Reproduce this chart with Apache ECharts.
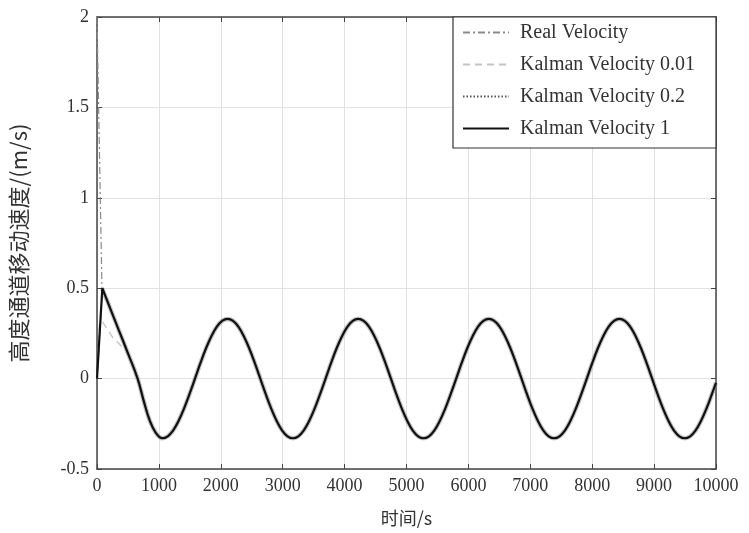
<!DOCTYPE html>
<html>
<head>
<meta charset="utf-8">
<script src="https://cdn.jsdelivr.net/npm/echarts@6/dist/echarts.min.js"></script>
<style>
  html, body { margin: 0; padding: 0; background: #fff; }
  #chart { width: 749px; height: 533px; }
</style>
</head>
<body>
<div id="chart"></div>
<script>
// 公共的正弦段（各曲线在起始瞬态之后基本重合），读图所得
const tailT = [656, 760, 850, 950,
  1055, 1143, 1231, 1319, 1407, 1495, 1583, 1670, 1758, 1846, 1934, 2022,
  2110, 2198, 2286, 2374, 2462, 2550, 2638, 2725, 2813, 2901, 2989, 3077,
  3165, 3253, 3341, 3429, 3517, 3605, 3693, 3780, 3868, 3956, 4044, 4132,
  4220, 4308, 4396, 4484, 4572, 4660, 4748, 4835, 4923, 5011, 5099, 5187,
  5275, 5363, 5451, 5539, 5627, 5715, 5803, 5890, 5978, 6066, 6154, 6242,
  6330, 6418, 6506, 6594, 6682, 6770, 6858, 6945, 7033, 7121, 7209, 7297,
  7385, 7473, 7561, 7649, 7737, 7825, 7913, 8000, 8088, 8176, 8264, 8352,
  8440, 8528, 8616, 8704, 8792, 8880, 8968, 9055, 9143, 9231, 9319, 9407,
  9495, 9583, 9671, 9759, 9847, 9935, 10000];
const tailV = [0, -0.13, -0.23, -0.30,
  -0.33, -0.319, -0.286, -0.233, -0.165, -0.085, 0, 0.085, 0.165, 0.233, 0.286, 0.319,
  0.33, 0.319, 0.286, 0.233, 0.165, 0.085, 0, -0.085, -0.165, -0.233, -0.286, -0.319,
  -0.33, -0.319, -0.286, -0.233, -0.165, -0.085, 0, 0.085, 0.165, 0.233, 0.286, 0.319,
  0.33, 0.319, 0.286, 0.233, 0.165, 0.085, 0, -0.085, -0.165, -0.233, -0.286, -0.319,
  -0.33, -0.319, -0.286, -0.233, -0.165, -0.085, 0, 0.085, 0.165, 0.233, 0.286, 0.319,
  0.33, 0.319, 0.286, 0.233, 0.165, 0.085, 0, -0.085, -0.165, -0.233, -0.286, -0.319,
  -0.33, -0.319, -0.286, -0.233, -0.165, -0.085, 0, 0.085, 0.165, 0.233, 0.286, 0.319,
  0.33, 0.319, 0.286, 0.233, 0.165, 0.085, 0, -0.085, -0.165, -0.233, -0.286, -0.319,
  -0.33, -0.319, -0.286, -0.233, -0.165, -0.085, -0.023];

// 起始瞬态
const realHead = [[0, 2], [80, 0.5]];
const realLead = [[80, 0.5], [200, 0.4], [350, 0.27], [500, 0.14]];
const k001Head = [[0, 0], [40, 0.3], [75, 0.32], [250, 0.23], [450, 0.16]];
const k001Lead = [[450, 0.16], [550, 0.09]];
const k02Head = [[0, 0], [86, 0.49]];
const k02Lead = [[86, 0.49], [200, 0.4], [350, 0.27], [500, 0.14]];
const k1Head = [[0, 0], [86, 0.5]];
const k1Lead = [[86, 0.5], [200, 0.4], [350, 0.27], [500, 0.14]];

const names = ["Real Velocity", "Kalman Velocity 0.01", "Kalman Velocity 0.2", "Kalman Velocity 1"];

const tail = tailT.map((t, i) => [t, tailV[i]]);

const styles = [
  { color: "#8a8a8a", width: 1.2, type: [7, 3, 2, 3] },
  { color: "#c4c4c4", width: 1.3, type: [7, 5] },
  { color: "#555555", width: 1.2, type: [1.5, 2] },
  { color: "#111111", width: 2.2, type: "solid" },
];

function mk(name, data, st, smooth) {
  return {
    name: name,
    type: "line",
    data: data,
    symbol: "none",
    smooth: smooth,
    animation: false,
    itemStyle: { color: st.color },
    lineStyle: { color: st.color, width: st.width, type: st.type },
  };
}

const series = [
  mk(names[0], realHead, styles[0], false),
  // 真实速度带噪声，用一条较宽的浅灰线模拟
  mk(names[0], realLead.concat(tail), { color: "rgba(140,140,140,0.5)", width: 4.5, type: "solid" }, 0.4),
  mk(names[1], k001Head, styles[1], false),
  mk(names[1], k001Lead.concat(tail), styles[1], 0.4),
  mk(names[2], k02Head, styles[2], false),
  mk(names[2], k02Lead.concat(tail), styles[2], 0.4),
  mk(names[3], k1Head, styles[3], false),
  mk(names[3], k1Lead.concat(tail), styles[3], 0.4),
];

const serif = "'Liberation Serif', 'Times New Roman', serif";
const cjk = "'Noto Sans CJK SC', sans-serif";
const axisCol = "#444";

function xAx(pos, show) {
  return {
    type: "value", position: pos, min: 0, max: 10000, interval: 1000,
    axisLine: { show: true, onZero: false, lineStyle: { color: axisCol, width: 1.5 } },
    axisTick: { show: true, inside: true, length: 5, lineStyle: { color: axisCol } },
    axisLabel: { show: show, color: "#333", fontFamily: serif, fontSize: 18, margin: 8,
      formatter: (v) => String(v) },
    splitLine: { show: show, lineStyle: { color: "#e2e2e2", width: 1 } },
  };
}
function yAx(pos, show) {
  return {
    type: "value", position: pos, min: -0.5, max: 2, interval: 0.5,
    axisLine: { show: true, onZero: false, lineStyle: { color: axisCol, width: 1.5 } },
    axisTick: { show: true, inside: true, length: 5, lineStyle: { color: axisCol } },
    axisLabel: { show: show, color: "#333", fontFamily: serif, fontSize: 18, margin: 8 },
    splitLine: { show: show, lineStyle: { color: "#e2e2e2", width: 1 } },
  };
}

const chart = echarts.init(document.getElementById("chart"));
const xMain = xAx("bottom", true);
xMain.name = "时间/s";
xMain.nameLocation = "middle";
xMain.nameGap = 40;
xMain.nameTextStyle = { color: "#333", fontFamily: cjk, fontSize: 18 };
const yMain = yAx("left", true);
yMain.name = "高度通道移动速度/(m/s)";
yMain.nameLocation = "middle";
yMain.nameGap = 67;
yMain.nameTextStyle = { color: "#333", fontFamily: cjk, fontSize: 22 };

chart.setOption({
  backgroundColor: "#fff",
  grid: { left: 96, right: 33, top: 17, bottom: 64, containLabel: false },
  xAxis: [xMain, xAx("top", false)],
  yAxis: [yMain, yAx("right", false)],
  graphic: [{
    type: "rect", z: 3,
    shape: { x: 453, y: 17, width: 263, height: 131 },
    style: { fill: "#fff", stroke: "#333", lineWidth: 1.2 },
  }],
  legend: {
    data: names,
    orient: "vertical",
    left: 462,
    top: 22,
    padding: 0,
    itemWidth: 46,
    itemHeight: 14,
    itemGap: 11,
    z: 5,
    itemStyle: { opacity: 0 },
    textStyle: { color: "#333", fontFamily: serif, fontSize: 20, lineHeight: 21, padding: [0, 0, 0, 6] },
  },
  series: series,
});
</script>
</body>
</html>
